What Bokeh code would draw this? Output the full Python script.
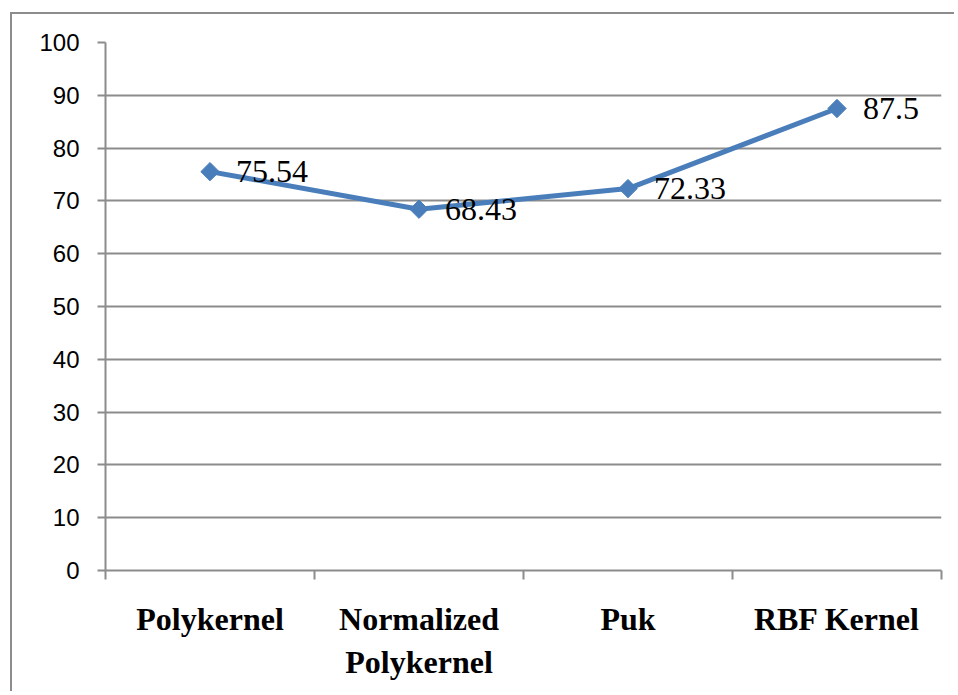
from bokeh.plotting import figure
from bokeh.models import FixedTicker, ColumnDataSource, Range1d
from bokeh.core.properties import value
from bokeh.embed import file_html
from bokeh.resources import INLINE

categories = ["Polykernel", "Normalized\nPolykernel", "Puk", "RBF Kernel"]
accuracy = [75.54, 68.43, 72.33, 87.5]
labels = ["75.54", "68.43", "72.33", "87.5"]
y_ticks = [0, 10, 20, 30, 40, 50, 60, 70, 80, 90, 100]

xs = [i + 0.5 for i in range(len(categories))]
src = ColumnDataSource(dict(x=xs, y=accuracy, lab=labels))

p = figure(width=944, height=679, output_backend="svg", toolbar_location=None,
           x_range=Range1d(0, len(categories)), y_range=Range1d(0, 100),
           min_border_left=93, min_border_right=15, min_border_top=28, min_border_bottom=123)
p.styles = {"border-left": "2px solid #8c8c8c", "border-top": "2px solid #8c8c8c",
            "margin-left": "10px", "margin-top": "12px"}
p.outline_line_color = None
p.background_fill_color = "white"
p.border_fill_color = "white"

grid_col = "#8c8c8c"
p.xgrid.visible = False
p.ygrid.grid_line_color = grid_col
p.ygrid.grid_line_width = 2
p.yaxis.ticker = FixedTicker(ticks=y_ticks)
p.yaxis.axis_line_color = grid_col
p.yaxis.axis_line_width = 2
p.yaxis.major_tick_line_color = grid_col
p.yaxis.major_tick_line_width = 2
p.yaxis.major_tick_out = 8
p.yaxis.major_tick_in = 0
p.yaxis.minor_tick_line_color = None
p.yaxis.major_label_text_font = "Liberation Sans"
p.yaxis.major_label_text_font_size = "24px"
p.yaxis.major_label_text_color = "black"
p.yaxis.major_label_standoff = 18

p.xaxis.ticker = FixedTicker(ticks=xs, minor_ticks=list(range(len(categories) + 1)))
p.xaxis.major_label_overrides = {x: c for x, c in zip(xs, categories)}
p.xaxis.axis_line_color = grid_col
p.xaxis.axis_line_width = 2
p.xaxis.major_tick_line_color = None
p.xaxis.major_tick_out = 0
p.xaxis.major_tick_in = 0
p.xaxis.minor_tick_line_color = grid_col
p.xaxis.minor_tick_line_width = 2
p.xaxis.minor_tick_out = 9
p.xaxis.minor_tick_in = 0
p.xaxis.major_label_text_font = "Liberation Serif"
p.xaxis.major_label_text_font_style = "bold"
p.xaxis.major_label_text_font_size = "32px"
p.xaxis.major_label_text_color = "black"
p.xaxis.major_label_standoff = 21

blue = "#4a7ebb"
p.line("x", "y", source=src, line_color=blue, line_width=5)
p.scatter("x", "y", source=src, marker="square", angle=0.785398, size=13,
          fill_color=blue, line_color=blue)
p.text("x", "y", text="lab", source=src, x_offset=26, text_baseline="middle",
       text_align="left", text_font=value("Liberation Serif"), text_font_size="32px",
       text_color="black")

open("out.html", "w").write(file_html(p, INLINE))
